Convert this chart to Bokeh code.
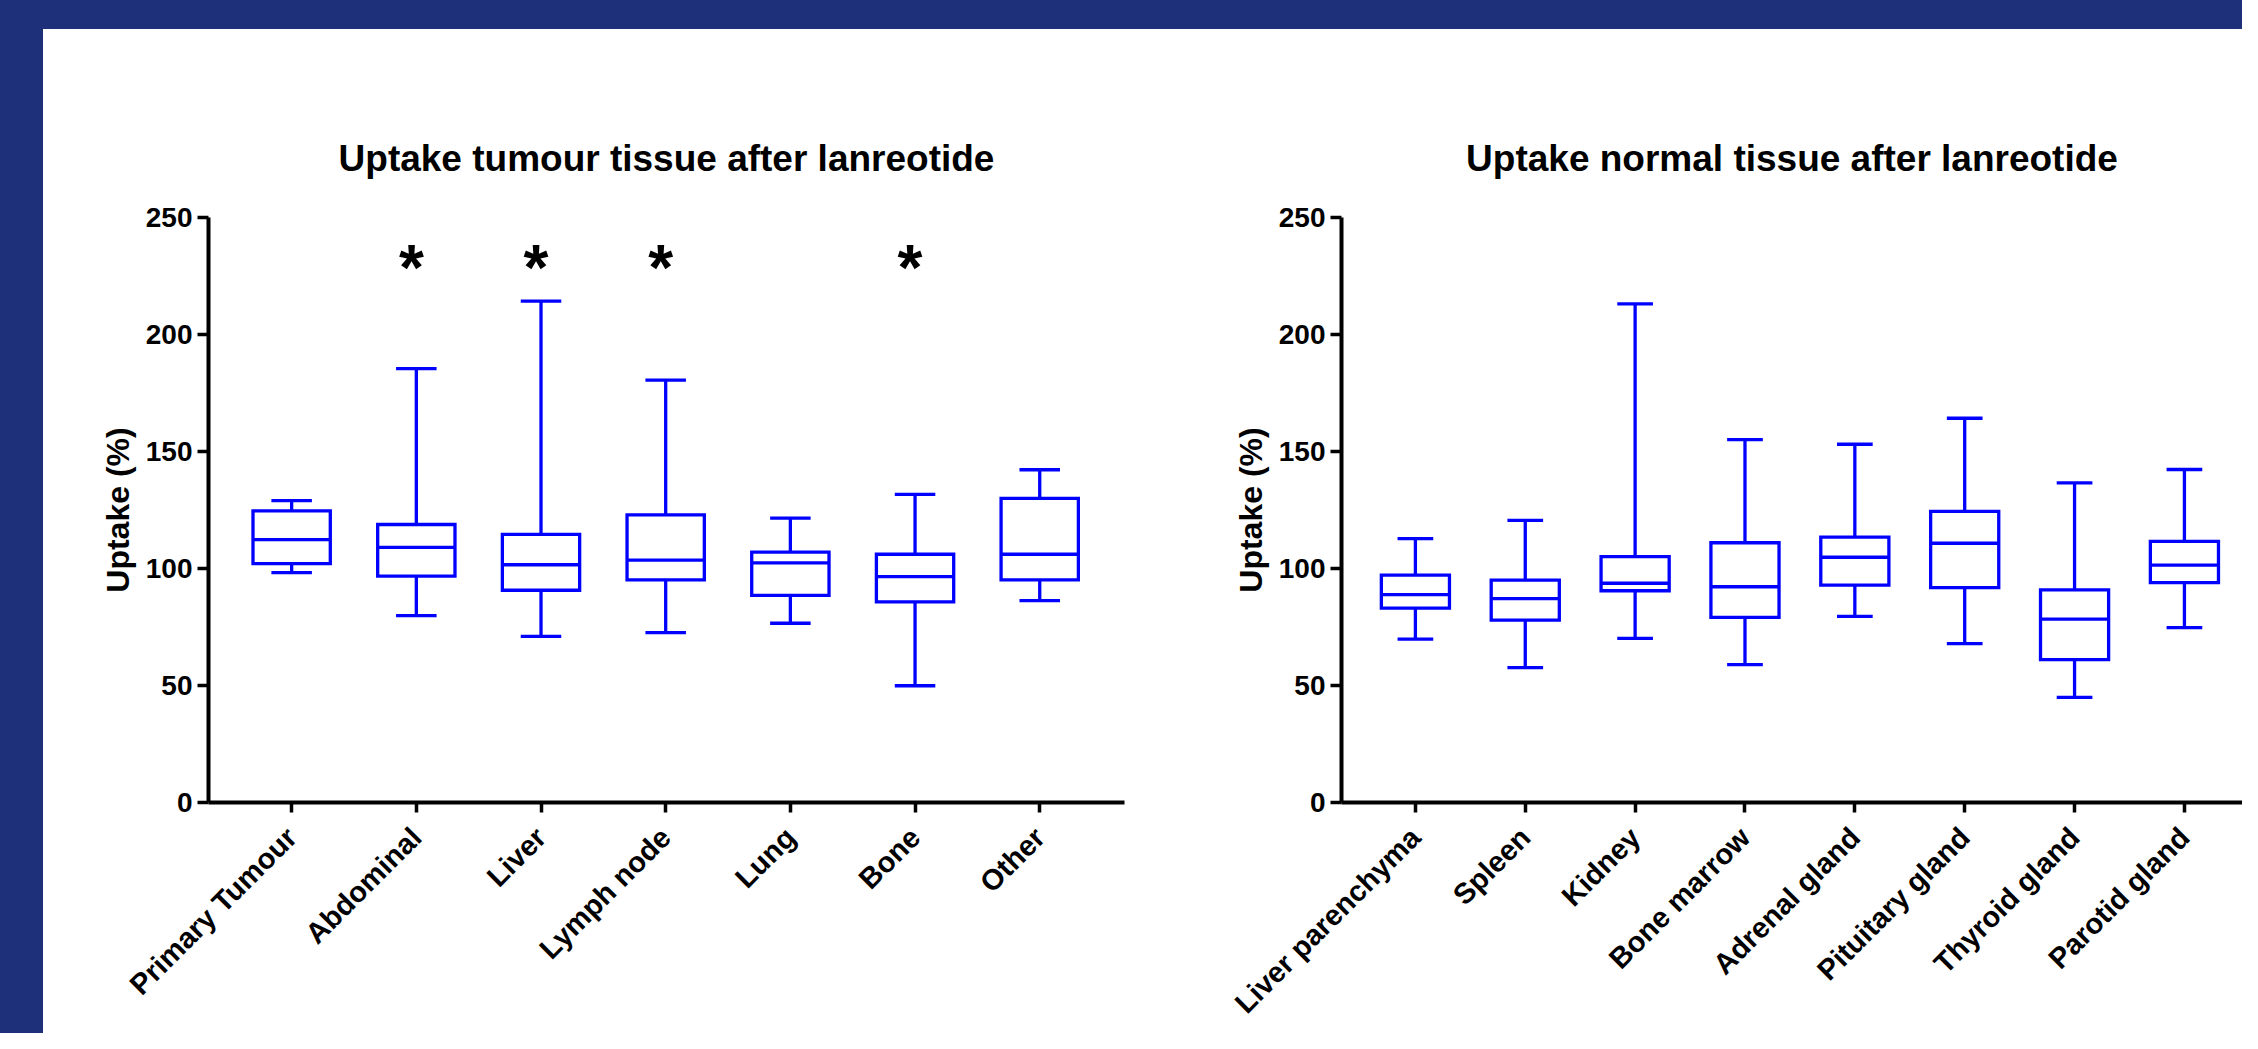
from bokeh.plotting import figure
from bokeh.models import Range1d, FixedTicker, Div, ColumnDataSource
from bokeh.layouts import row, column
from bokeh.core.properties import value
from bokeh.embed import file_html
from bokeh.resources import INLINE
import math

# ---------------- data ----------------
tumour_sites = ["Primary Tumour", "Abdominal", "Liver", "Lymph node", "Lung", "Bone", "Other"]
tumour_lower = [98.2, 79.9, 71.0, 72.6, 76.6, 49.9, 86.3]
tumour_q1 = [102.1, 96.7, 90.7, 95.1, 88.5, 85.7, 95.1]
tumour_median = [112.3, 109.0, 101.6, 103.6, 102.4, 96.5, 106.1]
tumour_q3 = [124.6, 118.8, 114.6, 122.9, 107.0, 106.1, 130.0]
tumour_upper = [129.0, 185.4, 214.3, 180.5, 121.5, 131.7, 142.2]
tumour_significant = ["Abdominal", "Liver", "Lymph node", "Bone"]

normal_sites = ["Liver parenchyma", "Spleen", "Kidney", "Bone marrow",
                "Adrenal gland", "Pituitary gland", "Thyroid gland", "Parotid gland"]
normal_lower = [69.8, 57.6, 70.1, 58.9, 79.5, 67.9, 44.9, 74.7]
normal_q1 = [83.1, 77.9, 90.5, 79.1, 92.9, 91.8, 61.1, 94.0]
normal_median = [88.8, 87.1, 93.7, 92.2, 104.8, 110.8, 78.4, 101.4]
normal_q3 = [97.2, 95.0, 105.1, 111.0, 113.4, 124.4, 90.9, 111.6]
normal_upper = [112.8, 120.6, 213.1, 155.1, 153.1, 164.2, 136.6, 142.3]

y_ticks = [0, 50, 100, 150, 200, 250]
y_label = "Uptake (%)"
title_tumour = "Uptake tumour tissue after lanreotide"
title_normal = "Uptake normal tissue after lanreotide"

# ---------------- style ----------------
BLUE = "#0000FF"
NAVY = "#1f307a"
FONT = "Liberation Sans"
BOX_W = 0.62
CAP_W = 0.325
LW = 3.3
STAR_Y = 228.6


def box_panel(title, sites, lower, q1, med, q3, upper, width, height,
              borders, x_range, stars=None):
    n = len(sites)
    idx = list(range(n))
    left, right, top, bottom = borders
    p = figure(width=width, height=height,
               x_range=Range1d(*x_range), y_range=Range1d(0, 250),
               output_backend="svg", toolbar_location=None,
               min_border_left=left, min_border_right=right,
               min_border_top=top, min_border_bottom=bottom)
    p.outline_line_color = None
    p.background_fill_color = "white"
    p.border_fill_color = "white"
    p.grid.visible = False

    src = ColumnDataSource(dict(
        x=idx, lo=lower, q1=q1, med=med, q3=q3, hi=upper,
        bx0=[i - BOX_W / 2 for i in idx], bx1=[i + BOX_W / 2 for i in idx],
        cx0=[i - CAP_W / 2 for i in idx], cx1=[i + CAP_W / 2 for i in idx],
    ))
    # whiskers
    p.segment(x0="x", y0="q3", x1="x", y1="hi", source=src, line_color=BLUE, line_width=LW)
    p.segment(x0="x", y0="q1", x1="x", y1="lo", source=src, line_color=BLUE, line_width=LW)
    # caps
    p.segment(x0="cx0", y0="hi", x1="cx1", y1="hi", source=src, line_color=BLUE, line_width=LW)
    p.segment(x0="cx0", y0="lo", x1="cx1", y1="lo", source=src, line_color=BLUE, line_width=LW)
    # boxes
    p.vbar(x="x", width=BOX_W, bottom="q1", top="q3", source=src,
           fill_color="white", line_color=BLUE, line_width=LW, line_join="miter")
    # medians
    p.segment(x0="bx0", y0="med", x1="bx1", y1="med", source=src, line_color=BLUE, line_width=LW)

    if stars:
        sx = [sites.index(s) for s in stars]
        p.text(x=sx, y=[STAR_Y] * len(sx), text=["*"] * len(sx),
               text_font=value(FONT), text_font_size="64px", text_font_style="bold",
               text_align="center", text_baseline="alphabetic", text_color="black",
               x_offset=-5)

    # title
    p.title.text = title
    p.title.text_font = FONT
    p.title.text_font_size = "37px"
    p.title.text_font_style = "bold"
    p.title.text_color = "black"
    p.title.align = "center"
    p.title.standoff = 78

    # axes
    xa = p.xaxis[0]
    xa.ticker = FixedTicker(ticks=idx)
    xa.major_label_overrides = {i: s for i, s in enumerate(sites)}
    xa.major_label_orientation = math.pi / 4
    xa.minor_tick_line_color = None
    xa.major_tick_in = 0
    xa.major_tick_out = 10
    xa.axis_line_width = 4
    xa.major_tick_line_width = 3.5
    xa.axis_line_color = "black"
    xa.major_tick_line_color = "black"
    xa.major_label_text_font = FONT
    xa.major_label_text_font_size = "29px"
    xa.major_label_text_font_style = "bold"
    xa.major_label_text_color = "black"
    xa.major_label_standoff = 20

    ya = p.yaxis[0]
    ya.ticker = FixedTicker(ticks=y_ticks)
    ya.minor_tick_line_color = None
    ya.major_tick_in = 0
    ya.major_tick_out = 11
    ya.axis_line_width = 4
    ya.major_tick_line_width = 3.5
    ya.axis_line_color = "black"
    ya.major_tick_line_color = "black"
    ya.major_label_text_font = FONT
    ya.major_label_text_font_size = "28px"
    ya.major_label_text_font_style = "bold"
    ya.major_label_text_color = "black"
    ya.major_label_standoff = 5
    ya.axis_label = y_label
    ya.axis_label_text_font = FONT
    ya.axis_label_text_font_size = "32px"
    ya.axis_label_text_font_style = "bold"
    ya.axis_label_text_color = "black"
    ya.axis_label_standoff = 7
    return p


# Page origin at (0, 0). Left panel frame x 208..1124, y 216.5..805; figure origin (43, 29)
sp_l = 124.68
first_l = 291.15
p1 = box_panel(title_tumour, tumour_sites, tumour_lower, tumour_q1, tumour_median,
               tumour_q3, tumour_upper, width=1087, height=1004,
               borders=(165, 6, 188, 228),
               x_range=((208 - first_l) / sp_l, (1124 - first_l) / sp_l),
               stars=tumour_significant)

# Right panel frame x 1341..2242, y 213..803; figure origin (1130, 29)
sp_r = 109.86
first_r = 1414.9
p2 = box_panel(title_normal, normal_sites, normal_lower, normal_q1, normal_median,
               normal_q3, normal_upper, width=1112, height=1004,
               borders=(211, 0, 184, 230),
               x_range=((1341 - first_r) / sp_r, (2242 - first_r) / sp_r))

top_band = Div(text="", width=2242, height=29, margin=0,
               styles={"background-color": NAVY})
left_band = Div(text="", width=43, height=1004, margin=0,
                styles={"background-color": NAVY})

layout = column(top_band, row(left_band, p1, p2, spacing=0), spacing=0)

open("out.html", "w").write(file_html(layout, INLINE))
